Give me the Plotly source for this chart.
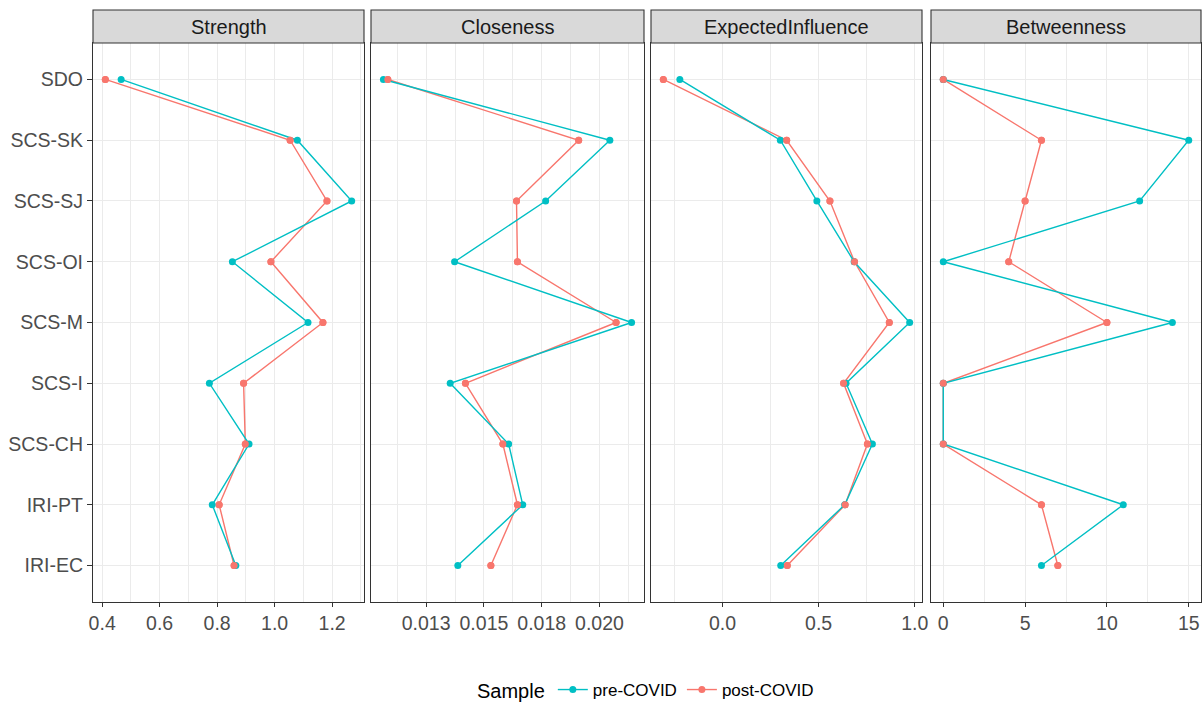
import plotly.graph_objects as go

categories = ["SDO", "SCS-SK", "SCS-SJ", "SCS-OI", "SCS-M", "SCS-I", "SCS-CH", "IRI-PT", "IRI-EC"]
measures = ["Strength", "Closeness", "ExpectedInfluence", "Betweenness"]

strength_pre = [0.466, 1.079, 1.268, 0.853, 1.116, 0.773, 0.911, 0.783, 0.865]
strength_post = [0.411, 1.054, 1.182, 0.987, 1.168, 0.892, 0.898, 0.807, 0.859]
closeness_pre = [0.01065, 0.02045, 0.01767, 0.01373, 0.02139, 0.01354, 0.01607, 0.01668, 0.01387]
closeness_post = [0.01084, 0.01910, 0.01641, 0.01645, 0.02072, 0.01420, 0.01582, 0.01645, 0.01530]
ei_pre = [-0.222, 0.301, 0.491, 0.685, 0.974, 0.643, 0.780, 0.636, 0.303]
ei_post = [-0.308, 0.334, 0.559, 0.687, 0.868, 0.630, 0.754, 0.638, 0.337]
bet_pre = [0, 15, 12, 0, 14, 0, 0, 11, 6]
bet_post = [0, 6, 5, 4, 10, 0, 0, 6, 7]

# tick settings per panel
major_ticks = [
    [0.4, 0.6, 0.8, 1.0, 1.2],
    [0.0125, 0.015, 0.0175, 0.020],
    [0.0, 0.5, 1.0],
    [0, 5, 10, 15],
]
major_labels = [
    ["0.4", "0.6", "0.8", "1.0", "1.2"],
    ["0.013", "0.015", "0.018", "0.020"],
    ["0.0", "0.5", "1.0"],
    ["0", "5", "10", "15"],
]
minor_ticks = [
    [0.3, 0.5, 0.7, 0.9, 1.1, 1.3],
    [0.01125, 0.01375, 0.01625, 0.01875, 0.02125],
    [-0.25, 0.25, 0.75],
    [2.5, 7.5, 12.5],
]

pre_series = [strength_pre, closeness_pre, ei_pre, bet_pre]
post_series = [strength_post, closeness_post, ei_post, bet_post]

CYAN = "#00BFC4"
RED = "#F8766D"
GRID = "#EBEBEB"
BORDER = "#333333"
TICKCOL = "#4D4D4D"
FONT = "Liberation Sans, Arial, Helvetica, sans-serif"

# domains (pixels within plot area width 1108)
W = 1108.0
px_domains = [(0, 271), (278, 551), (558, 829), (838, 1108)]
domains = [(a / W, b / W) for a, b in px_domains]

fig = go.Figure()
layout = {}
shapes = []
annotations = []
PLOT_H = 559.0
strip_h = 33 / PLOT_H

for i, m in enumerate(measures):
    suffix = "" if i == 0 else str(i + 1)
    xa, ya = "x" + suffix, "y" + suffix
    pre, post = pre_series[i], post_series[i]
    allv = list(pre) + list(post)
    lo, hi = min(allv), max(allv)
    pad = (hi - lo) * 0.05
    fig.add_trace(go.Scatter(
        x=post, y=categories, xaxis=xa, yaxis=ya, mode="lines+markers",
        line=dict(color=RED, width=1.4), marker=dict(color=RED, size=7),
        name="post-COVID", legendgroup="post", showlegend=(i == 0), legendrank=2,
        cliponaxis=False))
    fig.add_trace(go.Scatter(
        x=pre, y=categories, xaxis=xa, yaxis=ya, mode="lines+markers",
        line=dict(color=CYAN, width=1.4), marker=dict(color=CYAN, size=7),
        name="pre-COVID", legendgroup="pre", showlegend=(i == 0), legendrank=1,
        cliponaxis=False))
    fig.add_trace(go.Scatter(
        x=post, y=categories, xaxis=xa, yaxis=ya, mode="markers",
        marker=dict(color=RED, size=7), showlegend=False, legendgroup="post",
        hoverinfo="skip", cliponaxis=False))

    layout["xaxis" + suffix] = dict(
        domain=list(domains[i]), anchor=ya, range=[lo - pad, hi + pad],
        tickvals=major_ticks[i], ticktext=major_labels[i],
        showgrid=True, gridcolor=GRID, gridwidth=1.1,
        minor=dict(tickvals=minor_ticks[i], showgrid=True, gridcolor=GRID, gridwidth=0.55, ticks=""),
        showline=True, linecolor=BORDER, linewidth=1.1, mirror=True,
        ticks="outside", ticklen=4, tickcolor=BORDER, tickwidth=1.1,
        tickfont=dict(family=FONT, size=19.5, color=TICKCOL),
        zeroline=False, fixedrange=True, automargin=False,
    )
    layout["yaxis" + suffix] = dict(
        domain=[0, 1], anchor=xa, type="category", categoryarray=categories,
        categoryorder="array", range=[8.6, -0.6],
        showgrid=True, gridcolor=GRID, gridwidth=1.1,
        showline=True, linecolor=BORDER, linewidth=1.1, mirror=True,
        ticks="outside" if i == 0 else "", ticklen=5, tickcolor=BORDER, tickwidth=1.1,
        showticklabels=(i == 0),
        tickfont=dict(family=FONT, size=19.5, color=TICKCOL),
        zeroline=False, fixedrange=True, automargin=False,
    )
    shapes.append(dict(
        type="rect", xref="paper", yref="paper",
        x0=domains[i][0], x1=domains[i][1], y0=1.0, y1=1.0 + strip_h,
        fillcolor="#D9D9D9", line=dict(color=BORDER, width=1.1), layer="above"))
    annotations.append(dict(
        text=m, xref="paper", yref="paper",
        x=(domains[i][0] + domains[i][1]) / 2, y=1.0 + strip_h / 2,
        xanchor="center", yanchor="middle", showarrow=False,
        font=dict(family=FONT, size=20, color="#1A1A1A")))

fig.update_layout(
    width=1204, height=703,
    margin=dict(l=93, r=3, t=43, b=101),
    paper_bgcolor="white", plot_bgcolor="white",
    shapes=shapes, annotations=annotations,
    showlegend=True,
    legend=dict(
        orientation="h", xref="paper", x=0.5, xanchor="center",
        yref="container", y=1 - 690 / 703.0, yanchor="middle",
        title=dict(text="Sample", font=dict(family=FONT, size=20, color="#000000"), side="left"),
        font=dict(family=FONT, size=17, color="#000000"),
        itemwidth=30, tracegroupgap=0,
    ),
    font=dict(family=FONT),
    **layout,
)

fig.write_html("out.html")
